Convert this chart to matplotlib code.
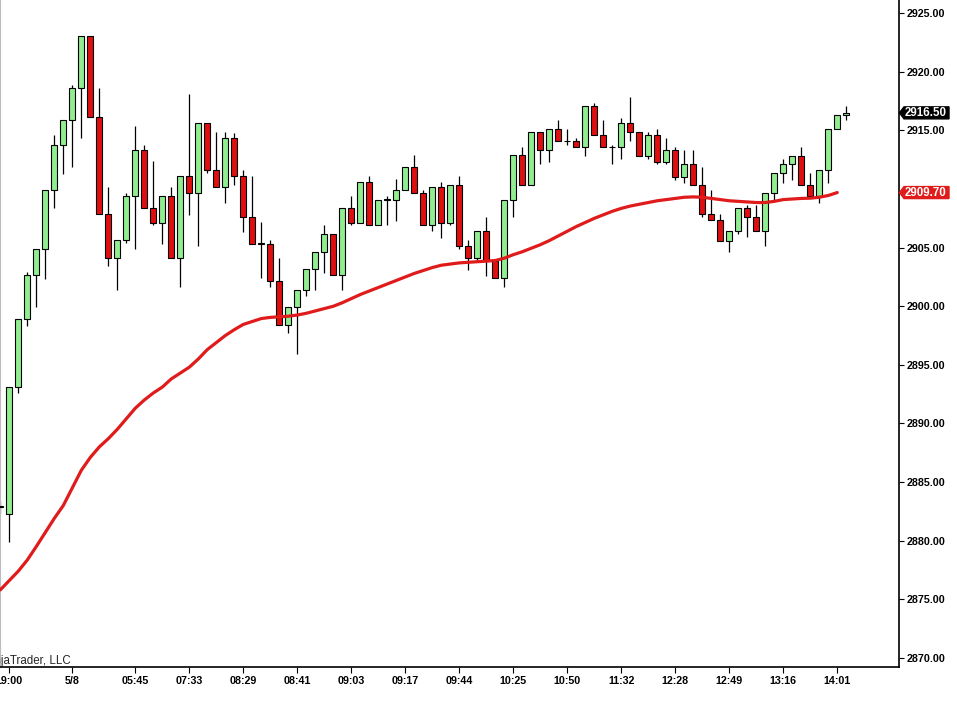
import matplotlib
matplotlib.use("Agg")
import matplotlib.pyplot as plt
from matplotlib.patches import Polygon
from matplotlib.transforms import IdentityTransform

# one entry per bar
opens = [2882.9, 2882.25, 2893.15, 2898.9, 2902.65, 2904.85, 2909.9, 2913.8, 2915.9, 2918.6,
         2923.05, 2916.15, 2907.85, 2904.1, 2905.65, 2909.4, 2913.3, 2908.35, 2907.1, 2909.4,
         2904.1, 2911.1, 2909.65, 2915.6, 2911.6, 2910.15, 2914.35, 2911.1, 2907.6, 2905.35,
         2905.35, 2902.15, 2898.4, 2899.9, 2901.35, 2903.15, 2904.6, 2906.15, 2902.65, 2908.35,
         2907.1, 2910.6, 2906.9, 2909.1, 2909.1, 2909.9, 2911.85, 2909.65, 2906.9, 2910.15,
         2907.1, 2910.35, 2905.1, 2904.1, 2906.4, 2903.9, 2902.4, 2909.1, 2912.9, 2910.35,
         2914.85, 2913.3, 2915.1, 2914.1, 2914.1, 2913.55, 2917.05, 2914.6, 2913.55, 2913.55,
         2915.6, 2914.85, 2912.85, 2914.6, 2912.35, 2913.3, 2911.05, 2912.1, 2910.35, 2907.85,
         2907.35, 2905.6, 2906.4, 2908.35, 2907.6, 2906.4, 2909.65, 2911.35, 2912.1, 2912.85,
         2910.35, 2909.4, 2911.6, 2915.1, 2916.35]
highs = [2883.4, 2893.15, 2898.9, 2902.9, 2904.85, 2909.9, 2914.6, 2915.9, 2918.85, 2923.05,
         2923.05, 2918.6, 2910.2, 2905.65, 2909.65, 2915.4, 2913.8, 2912.4, 2909.4, 2910.2,
         2911.1, 2918.1, 2915.6, 2915.6, 2914.85, 2914.85, 2914.8, 2911.6, 2911.1, 2907.15,
         2905.65, 2904.1, 2899.9, 2901.35, 2903.15, 2904.6, 2906.95, 2906.15, 2908.35, 2909.4,
         2910.6, 2911.1, 2909.1, 2909.4, 2910.85, 2911.85, 2912.9, 2909.9, 2910.15, 2910.6,
         2910.35, 2911.1, 2905.65, 2906.4, 2907.6, 2903.9, 2909.1, 2912.9, 2913.55, 2914.85,
         2914.85, 2915.1, 2915.9, 2915.1, 2914.35, 2917.05, 2917.3, 2915.9, 2913.8, 2916.1,
         2917.85, 2914.85, 2914.85, 2915.15, 2914.35, 2913.55, 2913.3, 2913.3, 2911.85, 2909.9,
         2907.85, 2906.4, 2908.35, 2908.6, 2908.6, 2909.65, 2911.35, 2912.6, 2912.85, 2913.55,
         2911.35, 2911.6, 2915.1, 2916.35, 2917.05]
lows = [2882.4, 2879.9, 2892.6, 2898.35, 2899.9, 2902.35, 2908.35, 2911.3, 2911.85, 2914.35,
        2916.15, 2907.85, 2903.4, 2901.35, 2905.4, 2904.85, 2908.35, 2906.9, 2905.35, 2904.1,
        2901.6, 2907.8, 2905.1, 2911.35, 2910.15, 2908.85, 2910.35, 2906.35, 2905.35, 2902.4,
        2901.6, 2898.4, 2897.7, 2895.9, 2900.85, 2901.35, 2902.85, 2902.65, 2901.35, 2906.9,
        2907.1, 2906.9, 2906.9, 2906.9, 2907.3, 2909.9, 2909.65, 2906.9, 2906.4, 2905.85,
        2906.9, 2904.85, 2903.1, 2903.9, 2902.6, 2902.4, 2901.6, 2907.6, 2910.35, 2910.35,
        2912.1, 2912.35, 2914.1, 2913.8, 2913.55, 2912.85, 2914.6, 2913.55, 2912.1, 2912.6,
        2914.1, 2912.85, 2912.6, 2912.1, 2912.1, 2910.8, 2910.55, 2910.35, 2907.6, 2907.35,
        2905.6, 2904.6, 2906.15, 2905.9, 2906.4, 2905.1, 2909.1, 2910.55, 2910.8, 2910.35,
        2909.4, 2908.85, 2910.55, 2915.1, 2915.85]
closes = [2882.9, 2893.15, 2898.9, 2902.65, 2904.85, 2909.9, 2913.8, 2915.9, 2918.6, 2923.05,
          2916.15, 2907.85, 2904.1, 2905.65, 2909.4, 2913.3, 2908.35, 2907.1, 2909.4, 2904.1,
          2911.1, 2909.65, 2915.6, 2911.6, 2910.15, 2914.35, 2911.1, 2907.6, 2905.35, 2905.35,
          2902.15, 2898.4, 2899.9, 2901.35, 2903.15, 2904.6, 2906.15, 2902.65, 2908.35, 2907.1,
          2910.6, 2906.9, 2909.1, 2909.1, 2909.9, 2911.85, 2909.65, 2906.9, 2910.15, 2907.1,
          2910.35, 2905.1, 2904.1, 2906.4, 2903.9, 2902.4, 2909.1, 2912.9, 2910.35, 2914.85,
          2913.3, 2915.1, 2914.1, 2914.1, 2913.55, 2917.05, 2914.6, 2913.55, 2913.55, 2915.6,
          2914.85, 2912.85, 2914.6, 2912.35, 2913.3, 2911.05, 2912.1, 2910.35, 2907.85, 2907.35,
          2905.6, 2906.4, 2908.35, 2907.6, 2906.4, 2909.65, 2911.35, 2912.1, 2912.85, 2910.35,
          2909.4, 2911.6, 2915.1, 2916.35, 2916.5]

ma_values = [2875.8, 2876.6, 2877.4, 2878.35, 2879.5, 2880.7, 2881.9, 2883.0, 2884.5, 2886.0,
             2887.1, 2888.0, 2888.7, 2889.5, 2890.4, 2891.3, 2892.0, 2892.6, 2893.1, 2893.8,
             2894.3, 2894.8, 2895.5, 2896.3, 2896.9, 2897.5, 2898.0, 2898.45, 2898.7, 2898.95,
             2899.05, 2899.1, 2899.15, 2899.25, 2899.4, 2899.6, 2899.8, 2900.0, 2900.3, 2900.65,
             2901.0, 2901.3, 2901.6, 2901.9, 2902.2, 2902.5, 2902.8, 2903.05, 2903.3, 2903.5,
             2903.6, 2903.7, 2903.75, 2903.8, 2903.85, 2903.9, 2904.1, 2904.4, 2904.65, 2904.95,
             2905.25, 2905.6, 2906.0, 2906.4, 2906.8, 2907.15, 2907.5, 2907.8, 2908.1, 2908.35,
             2908.55, 2908.7, 2908.85, 2909.0, 2909.1, 2909.2, 2909.3, 2909.33, 2909.3, 2909.2,
             2909.1, 2909.0, 2908.95, 2908.9, 2908.85, 2908.85, 2908.95, 2909.1, 2909.15, 2909.2,
             2909.22, 2909.3, 2909.45, 2909.7]

tick_bars = [1, 8, 15, 21, 27, 33, 39, 45, 51, 57, 63, 69, 75, 81, 87, 93]
tick_labels = ["19:00", "5/8", "05:45", "07:33", "08:29", "08:41", "09:03", "09:17",
               "09:44", "10:25", "10:50", "11:32", "12:28", "12:49", "13:16", "14:01"]
# 2910 sits under the moving average flag, so it has no label of its own
price_ticks = [2870, 2875, 2880, 2885, 2890, 2895, 2900, 2905, 2915, 2920, 2925]

plt.rcParams['font.family'] = ['Liberation Sans', 'DejaVu Sans']

UP = '#90ee90'
DOWN = '#e00f0f'


def price_flag(fig, ax, price, text, color):
    y = ax.transData.transform((0, price))[1]
    h = 6
    pts = [(899.5, y), (904, y + h), (949, y + h), (949, y - h), (904, y - h)]
    fig.add_artist(Polygon(pts, closed=True, facecolor=color, edgecolor=color,
                           transform=IdentityTransform(), clip_on=False))
    fig.text(905, y, text, transform=IdentityTransform(), ha='left', va='center',
             color='white', fontsize=8.3, fontweight='bold')


def run():
    fig = plt.figure(figsize=(9.57, 7.11), dpi=100)
    ax = fig.add_axes([0, 44 / 711, 899 / 957, 667 / 711])

    x = list(range(len(closes)))
    ax.vlines(x, lows, highs, color='black', linewidth=0.9, zorder=2)
    bottoms = [min(o, c) for o, c in zip(opens, closes)]
    heights = [max(abs(c - o), 0.03) for o, c in zip(opens, closes)]
    colors = [UP if c >= o else DOWN for o, c in zip(opens, closes)]
    ax.bar(x, heights, bottom=bottoms, width=0.7, color=colors,
           edgecolor='black', linewidth=0.8, zorder=3)

    ax.plot(range(len(ma_values)), ma_values, color='#e01b1b', linewidth=2.3,
            solid_capstyle='round', zorder=4)

    ax.set_xlim(-0.033, 99.86)
    ax.set_ylim(2869.22, 2926.13)

    ax.yaxis.tick_right()
    ax.set_yticks(price_ticks)
    ax.set_yticklabels(['%.2f' % p for p in price_ticks])
    ax.set_xticks(tick_bars)
    ax.set_xticklabels(tick_labels)
    ax.tick_params(axis='y', direction='out', length=3.5, width=0.8, pad=2.2,
                   labelsize=7.7, colors='black')
    ax.tick_params(axis='x', direction='out', length=4.5, width=0.8, pad=2.0,
                   labelsize=7.7, colors='black')
    for lbl in ax.get_xticklabels() + ax.get_yticklabels():
        lbl.set_fontweight('bold')

    ax.spines['top'].set_visible(False)
    ax.spines['left'].set_color('#bbbbbb')
    ax.spines['right'].set_linewidth(1.2)
    ax.spines['bottom'].set_linewidth(1.2)

    ax.text(71 / 899, 0.005, '\u00a9 2018 NinjaTrader, LLC', transform=ax.transAxes,
            ha='right', va='baseline', fontsize=8.3, color='#222222')

    price_flag(fig, ax, closes[-1], '%.2f' % closes[-1], 'black')
    price_flag(fig, ax, ma_values[-1], '%.2f' % ma_values[-1], '#e01b1b')

    fig.savefig('out.png', dpi=100)


run()
